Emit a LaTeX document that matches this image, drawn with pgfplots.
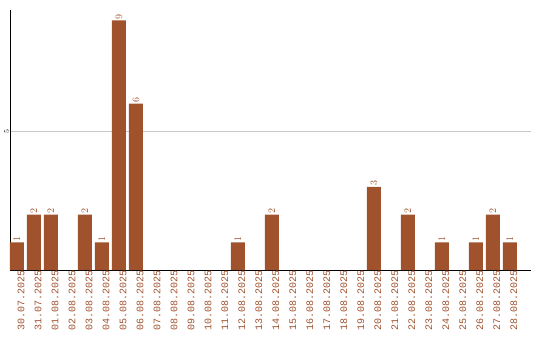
\documentclass[border=0pt]{standalone}
\usepackage{pgfplots}
\pgfplotsset{compat=1.18}
\usepackage{fontspec}
\setmainfont{Liberation Sans}
\newfontfamily\monof{Liberation Mono}
\definecolor{barc}{RGB}{160,82,45}
\definecolor{gridc}{RGB}{200,200,200}
\begin{document}
\begin{tikzpicture}
\useasboundingbox (0,0) rectangle (540pt,340pt);
\begin{axis}[
  at={(10pt,70pt)}, anchor=south west,
  scale only axis, width=521pt, height=260pt,
  xmin=-0.41, xmax=30.24, ymin=0, ymax=9.37,
  axis x line*=bottom, axis y line*=left,
  axis line style={black, line width=1pt, -},
  xtick={0,...,29},
  xticklabels={30.07.2025,31.07.2025,01.08.2025,02.08.2025,03.08.2025,04.08.2025,05.08.2025,06.08.2025,07.08.2025,08.08.2025,09.08.2025,10.08.2025,11.08.2025,12.08.2025,13.08.2025,14.08.2025,15.08.2025,16.08.2025,17.08.2025,18.08.2025,19.08.2025,20.08.2025,21.08.2025,22.08.2025,23.08.2025,24.08.2025,25.08.2025,26.08.2025,27.08.2025,28.08.2025},
  xticklabel style={rotate=90, anchor=east, text=barc, font=\monof\fontsize{10}{10}\selectfont, inner sep=0pt, xshift=0pt, yshift=-4pt},
  ytick={5}, yticklabel style={rotate=90, anchor=south, font=\fontsize{7}{7}\selectfont, inner sep=1pt},
  major tick length=0pt,
  ymajorgrids, grid style={gridc, line width=0.8pt},
  clip=false,
]
\addplot[ybar, bar width=14pt, fill=barc, draw=none,
  nodes near coords,
  every node near coord/.append style={rotate=90, anchor=west, text=barc, font=\monof\fontsize{10}{10}\selectfont, inner sep=1pt, xshift=0pt}]
coordinates {(0,1) (1,2) (2,2) (4,2) (5,1) (6,9) (7,6) (13,1) (15,2) (21,3) (23,2) (25,1) (27,1) (28,2) (29,1)};
\end{axis}
\end{tikzpicture}
\end{document}
